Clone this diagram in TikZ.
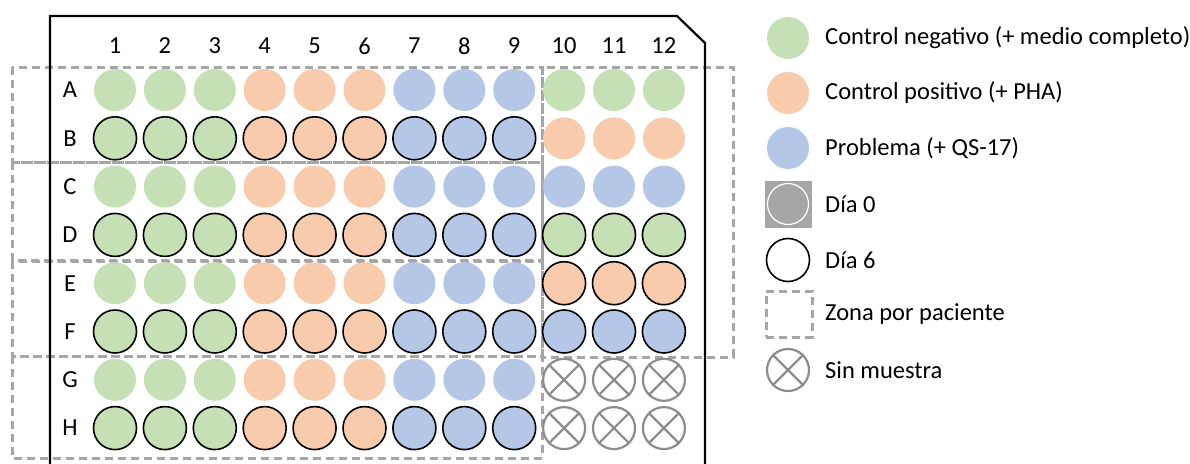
\documentclass[tikz,border=0pt]{standalone}
\usepackage{fontspec}
\setmainfont{Carlito}
\usetikzlibrary{positioning}
\definecolor{negverde}{HTML}{C5E0B4}
\definecolor{posnaranja}{HTML}{F8CBAD}
\definecolor{probazul}{HTML}{B4C7E7}
\definecolor{zonagris}{HTML}{A6A6A6}
\definecolor{cruzgris}{HTML}{8C8C8C}
\tikzset{
  pozo/.style={circle,minimum size=42pt,inner sep=0pt},
  dia6/.style={pozo,draw=black,line width=1.6pt,minimum size=43pt},
  vacio/.style={pozo,draw=cruzgris,line width=2.2pt,minimum size=42pt},
  zona/.style={draw=zonagris,line width=3pt,dash pattern=on 8pt off 5pt},
  etiq/.style={font=\fontsize{24.5}{28}\selectfont,inner sep=3pt},
}
\begin{document}
\begin{tikzpicture}[x=1pt,y=-1pt]
  \useasboundingbox (0,0) rectangle (1190,463);
  % zonas por paciente
  \draw [zona] (12,67) rectangle (542,162);
  \draw [zona] (12,162) rectangle (542,260);
  \draw [zona] (12,261) rectangle (542,356);
  \draw [zona] (12,356) rectangle (542,458);
  \draw [zona] (542,67) rectangle (733,357);
  % placa
  \draw [line width=2.2pt] (50,475) -- (50,16) -- (677,16) -- (705,43) -- (705,475);
  % numeros de columna
  \foreach \c in {1,...,12}
    \node [etiq] (col-\c) at ({115+(\c-1)*49.9},46) {\c};
  % pocillos 1-9
  \foreach \l [count=\r] in {A,B,C,D,E,F,G,H} {
    \node [etiq] (fila-\l) at (70,{90+(\r-1)*48.3}) {\l};
    \ifodd\r \def\estilo{pozo}\else \def\estilo{dia6}\fi
    \foreach \c/\color in {1/negverde,2/negverde,3/negverde,4/posnaranja,5/posnaranja,6/posnaranja,7/probazul,8/probazul,9/probazul}
      \node [\estilo,fill=\color] (w-\l-\c) at ({115+(\c-1)*49.9},{90+(\r-1)*48.3}) {};
  }
  % pocillos 10-12
  \foreach \l/\r/\color/\estilo in {A/0/negverde/pozo,B/1/posnaranja/pozo,C/2/probazul/pozo,D/3/negverde/dia6,E/4/posnaranja/dia6,F/5/probazul/dia6}
    \foreach \c in {10,11,12}
      \node [\estilo,fill=\color] (w-\l-\c) at ({115+(\c-1)*49.9},{90+\r*48.3}) {};
  \foreach \l/\r in {G/6,H/7}
    \foreach \c in {10,11,12} {
      \node [vacio] (w-\l-\c) at ({115+(\c-1)*49.9},{90+\r*48.3}) {};
      \draw [cruzgris,line width=2.2pt] (w-\l-\c.north east) -- (w-\l-\c.south west);
      \draw [cruzgris,line width=2.2pt] (w-\l-\c.north west) -- (w-\l-\c.south east);
    }
  % leyenda
  \node [pozo,fill=negverde] (ley-neg) at (788,38) {};
  \node [etiq,anchor=west] (txt-neg) at (822,38) {Control negativo (+ medio completo)};
  \node [pozo,fill=posnaranja] (ley-pos) at (788,93) {};
  \node [etiq,anchor=west] (txt-pos) at (822,93) {Control positivo (+ PHA)};
  \node [pozo,fill=probazul] (ley-prob) at (788,148) {};
  \node [etiq,anchor=west] (txt-prob) at (822,148) {Problema (+ QS-17)};
  \node [fill=zonagris,minimum size=47pt,inner sep=0pt] (ley-d0) at (788,204) {};
  \node [pozo,fill=zonagris,draw=white,line width=1.2pt,minimum size=41pt] (ley-d0c) at (ley-d0) {};
  \node [etiq,anchor=west] (txt-d0) at (822,204) {Día 0};
  \node [dia6,fill=white] (ley-d6) at (788,260) {};
  \node [etiq,anchor=west] (txt-d6) at (822,260) {Día 6};
  \node [zona,minimum size=46pt,inner sep=0pt] (ley-zona) at (789,314) {};
  \node [etiq,anchor=west] (txt-zona) at (822,314) {Zona por paciente};
  \node [vacio] (ley-vacio) at (788,370) {};
  \draw [cruzgris,line width=2.2pt] (ley-vacio.north east) -- (ley-vacio.south west);
  \draw [cruzgris,line width=2.2pt] (ley-vacio.north west) -- (ley-vacio.south east);
  \node [etiq,anchor=west] (txt-vacio) at (822,370) {Sin muestra};
\end{tikzpicture}
\end{document}
